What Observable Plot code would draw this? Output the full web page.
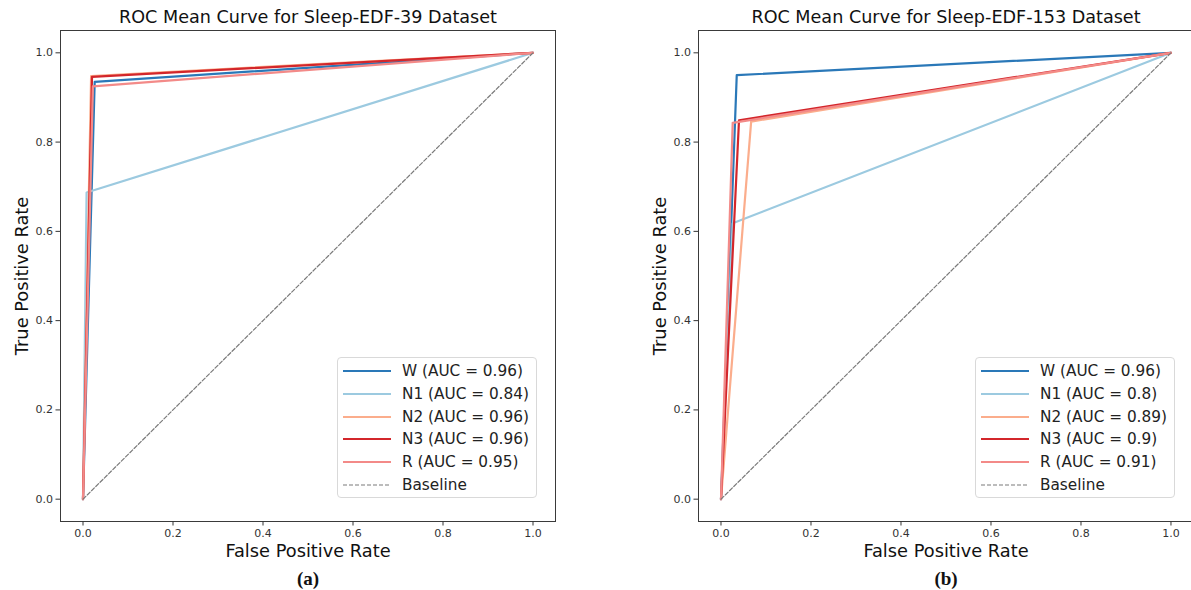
<!DOCTYPE html>
<html>
<head>
<meta charset="utf-8">
<script src="https://cdn.jsdelivr.net/npm/d3@7"></script>
<script src="https://cdn.jsdelivr.net/npm/@observablehq/plot@0.6"></script>
<style>
  html, body { margin: 0; padding: 0; background: #fff; width: 1191px; height: 590px; overflow: hidden; }
  #root { position: relative; width: 1191px; height: 590px; overflow: hidden; font-family: "DejaVu Sans", sans-serif; }
  .panel { position: absolute; top: 0; }
  .panel svg { max-width: none !important; display: block; }
  .legend { position: absolute; box-sizing: border-box; border: 1px solid #d9d9d9; border-radius: 4px; background: rgba(255,255,255,0.85); }
  .legend .row { position: absolute; left: 0; height: 20px; display: flex; align-items: center; font-size: 15.3px; color: #222; white-space: nowrap; }
  .legend svg { display: block; }
</style>
</head>
<body>
<div id="root"></div>
<script>
// ---- data ----
const classes = ["W", "N1", "N2", "N3", "R"];
const classColors = ["#2a78b8", "#9ccae0", "#fbad8c", "#d3262b", "#f38a88"];

const titles = ["ROC Mean Curve for Sleep-EDF-39 Dataset", "ROC Mean Curve for Sleep-EDF-153 Dataset"];
const panelTags = ["(a)", "(b)"];

// single operating point (FPR, TPR) per class
const fpr39  = [0.026, 0.008, 0.018, 0.020, 0.022];
const tpr39  = [0.935, 0.687, 0.948, 0.946, 0.925];
const auc39  = ["0.96", "0.84", "0.96", "0.96", "0.95"];

const fpr153 = [0.035, 0.026, 0.067, 0.040, 0.026];
const tpr153 = [0.950, 0.618, 0.846, 0.849, 0.843];
const auc153 = ["0.96", "0.8", "0.89", "0.9", "0.91"];

const baselineX = [0, 1];
const baselineY = [0, 1];
const tickValues = [0, 0.2, 0.4, 0.6, 0.8, 1.0];

const root = document.getElementById("root");

function makePanel(left, width, marginRight, xMax, fpr, tpr, auc, title, tag, legendLeft, centerShift) {
  const marks = [];
  classes.forEach((c, i) => {
    const pts = [[0, 0], [fpr[i], tpr[i]], [1, 1]];
    marks.push(Plot.line(pts, {x: d => d[0], y: d => d[1], stroke: classColors[i], strokeWidth: 2.2}));
  });
  const base = baselineX.map((x, i) => [x, baselineY[i]]);
  marks.push(Plot.line(base, {x: d => d[0], y: d => d[1], stroke: "#7a7a7a", strokeWidth: 1.2, strokeDasharray: "4,2"}));
  marks.push(Plot.frame({stroke: "#3a3a3a", strokeWidth: 1}));
  marks.push(Plot.axisX({ticks: tickValues, tickFormat: d => d.toFixed(1), tickSize: 4.5, tickPadding: 3, label: null, fontSize: 11, color: "#333"}));
  marks.push(Plot.axisY({ticks: tickValues, tickFormat: d => d.toFixed(1), tickSize: 4.5, tickPadding: 3, label: null, fontSize: 11, color: "#333"}));
  marks.push(Plot.text([title], {frameAnchor: "top", lineAnchor: "middle", textAnchor: "middle", dx: centerShift, dy: -13, text: d => d, fontSize: 17.6, fill: "#111"}));
  marks.push(Plot.text(["False Positive Rate"], {frameAnchor: "bottom", lineAnchor: "middle", textAnchor: "middle", dx: centerShift, dy: 30, text: d => d, fontSize: 17.8, fill: "#111"}));
  marks.push(Plot.text(["True Positive Rate"], {frameAnchor: "left", lineAnchor: "middle", textAnchor: "middle", dx: -38, rotate: -90, text: d => d, fontSize: 17.8, fill: "#111"}));
  marks.push(Plot.text([tag], {frameAnchor: "bottom", lineAnchor: "middle", textAnchor: "middle", dx: centerShift, dy: 57, text: d => d, fontSize: 19, fontWeight: "bold", fontFamily: "Liberation Serif, Times New Roman, serif", fill: "#111"}));

  const svg = Plot.plot({
    width: width,
    height: 590,
    marginLeft: 60,
    marginRight: marginRight,
    marginTop: 30,
    marginBottom: 69,
    x: {domain: [-0.05, xMax]},
    y: {domain: [-0.05, 1.05]},
    style: {fontFamily: "DejaVu Sans, sans-serif", background: "transparent", overflow: "visible"},
    marks
  });
  const wrap = document.createElement("div");
  wrap.className = "panel";
  wrap.style.left = left + "px";
  wrap.style.width = width + "px";
  wrap.appendChild(svg);
  root.appendChild(wrap);

  // legend (HTML)
  const lg = document.createElement("div");
  lg.className = "legend";
  lg.style.left = legendLeft + "px";
  lg.style.top = "357px";
  lg.style.width = "200px";
  lg.style.height = "141px";
  const labels = classes.map((c, i) => `${c} (AUC = ${auc[i]})`).concat(["Baseline"]);
  const cols = classColors.concat(["#7a7a7a"]);
  labels.forEach((lab, i) => {
    const row = document.createElement("div");
    row.className = "row";
    row.style.top = (3 + i * 22.8) + "px";
    const dashed = i === labels.length - 1;
    row.innerHTML = `<svg width="64" height="20"><line x1="5" x2="53" y1="10" y2="10" stroke="${cols[i]}" stroke-width="${dashed ? 1.2 : 2.2}" ${dashed ? 'stroke-dasharray="4,2"' : ''}/></svg><span>${lab}</span>`;
    lg.appendChild(row);
  });
  root.appendChild(lg);
}

makePanel(0, 600, 45, 1.05, fpr39, tpr39, auc39, titles[0], panelTags[0], 337, 0);
// right panel: its axes box runs past the picture's right edge, as in the source image
makePanel(638, 600, 38, 1.0656, fpr153, tpr153, auc153, titles[1], panelTags[1], 975, -3.5);
</script>
</body>
</html>
